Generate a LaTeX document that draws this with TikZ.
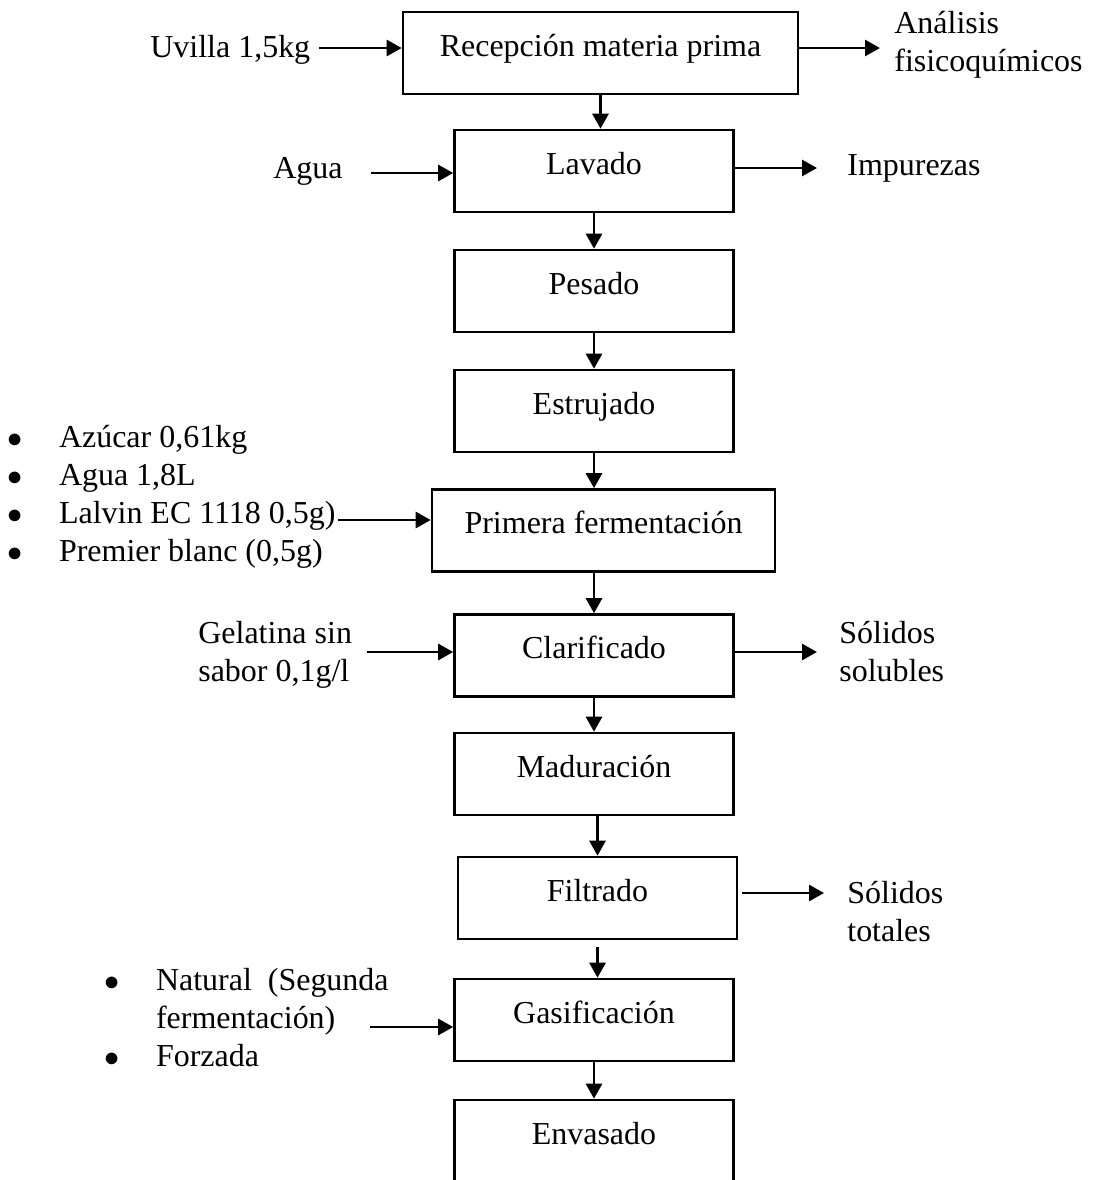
\documentclass[tikz,border=0pt]{standalone}
\usepackage{fontspec}
\setmainfont{Liberation Serif}
\usetikzlibrary{arrows.meta,positioning,calc}
\newcommand{\stack}[1]{\begin{tabular}[t]{@{}l@{}}#1\end{tabular}}
\newcommand{\blist}[1]{\begin{tabular}[t]{@{}l@{\hspace{0.73cm}}l@{}}#1\end{tabular}}
\newcommand{\bul}{$\bullet$}
\newcommand{\fsize}{\fontsize{18.2pt}{21.8pt}\selectfont}

\begin{document}
\begin{tikzpicture}[x=0.02cm, y=-0.02cm,
  txt/.style={inner sep=0pt, anchor=base west, font=\fsize},
  stepbox/.style={draw, line width=1.5pt, inner sep=0pt, minimum width=5.58cm,
    minimum height=1.64cm, text height=12.7pt, text depth=9.1pt, font=\fsize},
  flow/.style={line width=1.6pt, -{Triangle[length=0.3cm, width=0.32cm]}}]
\clip (0,0) rectangle (1098,1180);

% process steps
\node[stepbox, minimum width=7.9cm] (rec) at (600.5,53) {Recepción materia prima};
\node[stepbox] (lav) at (594,171) {Lavado};
\node[stepbox] (pes) at (594,291) {Pesado};
\node[stepbox] (est) at (594,411) {Estrujado};
\node[stepbox, minimum width=6.86cm] (pri) at (603.5,530.5) {Primera fermentación};
\node[stepbox] (cla) at (594,655.5) {Clarificado};
\node[stepbox] (mad) at (594,774) {Maduración};
\node[stepbox] (fil) at (597.5,898) {Filtrado};
\node[stepbox] (gas) at (594,1020) {Gasificación};
\node[stepbox] (env) at (594,1141) {Envasado};

% inputs and outputs
\node[txt] (uvi) at (150,57) {Uvilla 1,5kg};
\node[txt] (agu) at (273,178) {Agua};
\node[txt] (ana) at (894,33) {\stack{Análisis\\fisicoquímicos}};
\node[txt] (imp) at (847,175) {Impurezas};
\node[txt] (ing) at (7,447) {\blist{\bul & Azúcar 0,61kg\\ \bul & Agua 1,8L\\
  \bul & Lalvin EC 1118 0,5g)\\ \bul & Premier blanc (0,5g)}};
\node[txt] (gel) at (198,643) {\stack{Gelatina sin\\sabor 0,1g/l}};
\node[txt] (sol) at (839,643) {\stack{Sólidos\\solubles}};
\node[txt] (tot) at (847,903) {\stack{Sólidos\\totales}};
\node[txt] (gtp) at (104,990) {\blist{\bul & Natural\ \ (Segunda\\ & fermentación)\\
  \bul & Forzada}};

\coordinate (uviA) at (319,48);
\coordinate (aguA) at (371,173);
\coordinate (anaA) at (880,48);
\coordinate (impA) at (817,168);
\coordinate (ingA) at (338,520);
\coordinate (gelA) at (367,652);
\coordinate (solA) at (817,652);
\coordinate (totA) at (824,893);
\coordinate (gtpA) at (370,1027);

\draw[flow] (uviA) -- (uviA -| rec.west);
\draw[flow] (aguA) -- (aguA -| lav.west);
\draw[flow] (anaA -| rec.east) -- (anaA);
\draw[flow] (impA -| lav.east) -- (impA);
\draw[flow] (ingA) -- (ingA -| pri.west);
\draw[flow] (gelA) -- (gelA -| cla.west);
\draw[flow] (solA -| cla.east) -- (solA);
\draw[flow, shorten <=0.08cm] (totA -| fil.east) -- (totA);
\draw[flow] (gtpA) -- (gtpA -| gas.west);

% main line
\draw[flow] (rec.south) -- (rec.south |- lav.north);
\draw[flow] (lav.south) -- (pes.north);
\draw[flow] (pes.south) -- (est.north);
\draw[flow] (est.south) -- (est.south |- pri.north);
\draw[flow] (cla.north |- pri.south) -- (cla.north);
\draw[flow] (cla.south) -- (mad.north);
\draw[flow] (fil.north |- mad.south) -- (fil.north);
\draw[flow, shorten <=0.14cm] (fil.south) -- (fil.south |- gas.north);
\draw[flow] (gas.south) -- (env.north);
\end{tikzpicture}
\end{document}
